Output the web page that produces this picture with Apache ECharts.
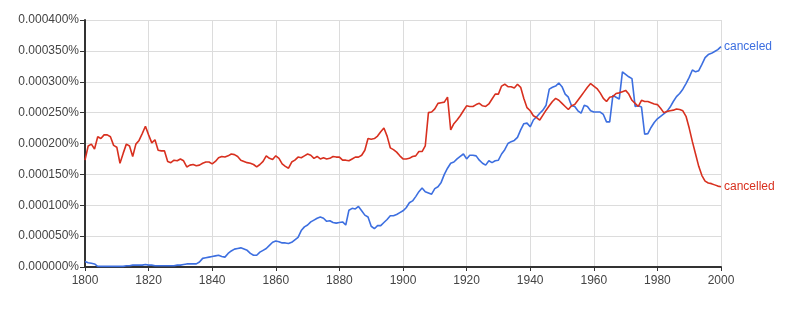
<!DOCTYPE html>
<html>
<head>
<meta charset="utf-8">
<script src="https://cdn.jsdelivr.net/npm/echarts@6/dist/echarts.min.js"></script>
<style>html,body{margin:0;padding:0;background:#fff}#c{width:800px;height:320px}</style>
</head>
<body>
<div id="c"></div>
<script>
// values in millionths of a percent (173 = 0.000173%)
const startYear = 1800;
const endYear = 2000;
const seriesNames = ['canceled', 'cancelled'];
const canceled = [
  9,7,6,5,1,1,1,1,1,1, 1,1,1,2,2,3,3,3,3,4,
  3,3,2,2,2,2,2,2,2,3, 3,4,5,5,5,5,8,14,15,16,
  17,18,19,17,16,22,26,29,30,31, 29,27,22,19,19,24,27,30,35,40,
  42,41,39,39,38,40,44,48,59,65, 68,73,76,79,81,79,74,75,72,71,
  72,73,68,92,95,94,98,91,84,81, 66,62,67,67,72,77,83,83,85,88,
  91,96,104,107,114,122,128,122,120,118, 127,130,137,150,160,168,170,175,179,183,
  175,181,181,180,173,168,165,172,169,172, 173,183,190,200,203,205,210,222,232,233,
  227,238,243,249,254,262,288,291,293,298, 292,280,275,261,260,253,249,262,260,253,
  251,251,251,247,235,235,278,275,272,316, 312,308,305,260,261,259,215,216,226,234,
  240,244,248,252,259,268,276,281,288,297, 307,319,316,318,328,339,344,346,349,352,
  357
];
const cancelled = [
  173,196,199,191,211,208,214,214,211,197, 194,168,184,199,196,179,199,205,216,228,
  214,201,206,189,188,188,171,169,173,172, 175,172,162,165,166,164,165,168,170,170,
  167,171,177,179,178,180,183,182,179,173, 171,169,168,166,162,166,171,180,176,174,
  180,176,167,163,160,170,173,178,177,180, 183,181,176,179,175,177,175,176,179,178,
  178,173,173,172,175,178,178,181,189,208, 207,208,212,219,225,212,193,190,186,180,
  175,175,176,179,180,187,187,196,250,251, 256,265,266,267,275,222,232,238,245,253,
  261,260,260,263,265,261,260,264,272,280, 280,293,296,292,292,290,296,291,273,258,
  253,245,242,238,246,254,261,268,273,270, 265,260,255,261,263,270,277,284,291,297,
  293,289,282,273,268,275,276,281,282,284, 286,280,270,265,260,270,268,268,266,264,
  263,257,250,252,253,254,256,255,253,244, 225,203,183,163,148,139,136,135,133,131,
  130
];
const yTicks = { min: 0, max: 400, step: 50 };
const xTicks = { min: 1800, max: 2000, step: 20 };

const years = canceled.map((_, i) => startYear + i);
const toPairs = arr => arr.map((v, i) => [years[i], v]);

const chart = echarts.init(document.getElementById('c'), null, { renderer: 'canvas' });
const colors = ['#3d6fe0', '#d8301f'];
const axisFont = { fontFamily: 'Liberation Sans, Arial, sans-serif', fontSize: 12, color: '#444' };

chart.setOption({
  animation: false,
  grid: { left: 85, right: 79, top: 20, bottom: 53 },
  xAxis: {
    type: 'value', min: xTicks.min, max: xTicks.max, interval: xTicks.step,
    axisLine: { show: true, onZero: false, lineStyle: { color: '#333', width: 2 } },
    axisTick: { show: true, length: 4, lineStyle: { color: '#333' } },
    axisLabel: Object.assign({ margin: 8, formatter: v => String(v) }, axisFont),
    splitLine: { show: true, lineStyle: { color: '#dcdcdc', width: 1 } }
  },
  yAxis: {
    type: 'value', min: yTicks.min, max: yTicks.max, interval: yTicks.step,
    axisLine: { show: true, lineStyle: { color: '#333', width: 2 } },
    axisTick: { show: true, length: 5, lineStyle: { color: '#333' } },
    axisLabel: Object.assign({ margin: 6, formatter: v => (v / 1e6).toFixed(6) + '%' }, axisFont),
    splitLine: { show: true, lineStyle: { color: '#dcdcdc', width: 1 } }
  },
  series: [canceled, cancelled].map((arr, k) => ({
    name: seriesNames[k],
    type: 'line',
    data: toPairs(arr),
    showSymbol: false,
    symbol: 'none',
    lineStyle: { color: colors[k], width: 1.6 },
    itemStyle: { color: colors[k] },
    emphasis: { disabled: true },
    endLabel: {
      show: true,
      formatter: p => p.seriesName,
      color: colors[k],
      fontFamily: 'Liberation Sans, Arial, sans-serif',
      fontSize: 12,
      distance: 3
    }
  }))
});
</script>
</body>
</html>
